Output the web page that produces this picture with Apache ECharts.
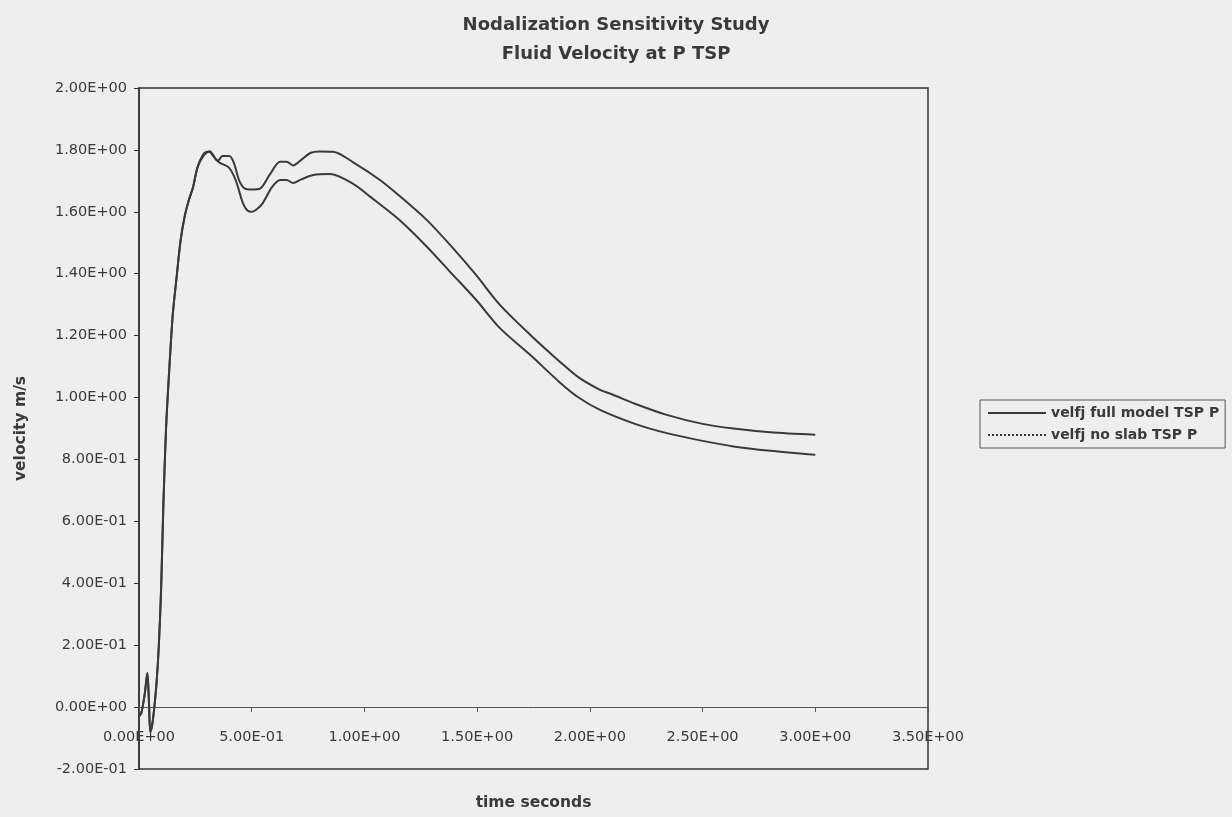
<!DOCTYPE html>
<html>
<head>
<meta charset="utf-8">
<script src="https://cdn.jsdelivr.net/npm/echarts@6/dist/echarts.min.js"></script>
<style>
html,body{margin:0;padding:0;background:#eeeeee;}
#chart{width:1232px;height:817px;}
</style>
</head>
<body>
<div id="chart"></div>
<script>
// ---- data ----
const seriesNames = ['velfj full model TSP P', 'velfj no slab TSP P'];

const timeFull = [0.000,0.010,0.025,0.037,0.044,0.050,0.058,0.068,0.078,0.088,0.098,0.108,0.120,0.135,0.150,0.167,0.185,0.204,0.222,0.240,0.255,0.270,0.290,0.310,0.330,0.350,0.370,0.400,0.420,0.445,0.470,0.500,0.537,0.580,0.626,0.655,0.683,0.720,0.760,0.800,0.861,0.950,1.069,1.158,1.276,1.380,1.495,1.600,1.735,1.868,1.950,2.045,2.100,2.200,2.341,2.500,2.637,2.800,3.000];
const veloFull = [-0.03,-0.02,0.04,0.11,0.02,-0.08,-0.06,0.00,0.08,0.20,0.38,0.65,0.90,1.10,1.27,1.39,1.51,1.59,1.64,1.68,1.73,1.765,1.79,1.795,1.78,1.765,1.78,1.78,1.76,1.70,1.675,1.672,1.675,1.72,1.762,1.762,1.750,1.768,1.790,1.795,1.794,1.760,1.703,1.650,1.574,1.493,1.396,1.300,1.203,1.115,1.065,1.025,1.010,0.980,0.944,0.915,0.900,0.888,0.880];

const timeNoSlab = [0.000,0.010,0.025,0.037,0.044,0.050,0.058,0.068,0.078,0.088,0.098,0.108,0.120,0.135,0.150,0.167,0.185,0.204,0.222,0.240,0.260,0.290,0.315,0.340,0.359,0.400,0.430,0.460,0.480,0.500,0.525,0.550,0.590,0.626,0.655,0.683,0.720,0.773,0.847,0.950,1.025,1.158,1.276,1.380,1.495,1.600,1.735,1.868,1.950,2.045,2.200,2.341,2.500,2.637,2.800,3.000];
const veloNoSlab = [-0.03,-0.02,0.04,0.11,0.02,-0.08,-0.06,0.00,0.08,0.20,0.38,0.65,0.90,1.10,1.27,1.39,1.51,1.59,1.64,1.68,1.745,1.785,1.795,1.770,1.758,1.742,1.700,1.630,1.605,1.600,1.610,1.629,1.680,1.703,1.703,1.693,1.705,1.719,1.722,1.690,1.649,1.572,1.488,1.406,1.316,1.225,1.138,1.048,1.000,0.960,0.915,0.885,0.860,0.842,0.828,0.815];

const xTickLabels = ['0.00E+00','5.00E-01','1.00E+00','1.50E+00','2.00E+00','2.50E+00','3.00E+00','3.50E+00'];
const yTickLabels = ['-2.00E-01','0.00E+00','2.00E-01','4.00E-01','6.00E-01','8.00E-01','1.00E+00','1.20E+00','1.40E+00','1.60E+00','1.80E+00','2.00E+00'];

// ---- chart ----
const ink = '#333333';
const chart = echarts.init(document.getElementById('chart'));
const pairs = (t, v) => t.map((x, i) => [x, v[i]]);

chart.setOption({
  backgroundColor: '#eeeeee',
  animation: false,
  title: {
    text: 'Nodalization Sensitivity Study\nFluid Velocity at P TSP',
    left: 'center',
    top: 6,
    textStyle: {fontFamily: 'DejaVu Sans', fontWeight: 'bold', fontSize: 18, lineHeight: 29, color: '#3a3a3a'}
  },
  legend: {
    orient: 'vertical',
    left: 980,
    top: 400,
    itemWidth: 58,
    itemHeight: 16,
    itemGap: 6,
    padding: [5, 6, 5, 7],
    borderColor: '#555',
    borderWidth: 1,
    borderRadius: 0,
    textStyle: {fontFamily: 'DejaVu Sans', fontWeight: 'bold', fontSize: 14, color: '#3a3a3a', lineHeight: 16},
    data: [
      {name: seriesNames[0], itemStyle: {opacity: 0}, lineStyle: {type: 'solid', width: 2}},
      {name: seriesNames[1], itemStyle: {opacity: 0}, lineStyle: {type: 'dotted', width: 2}}
    ]
  },
  grid: {left: 139, right: 304, top: 88, bottom: 48, show: true, borderColor: ink, borderWidth: 1.5, backgroundColor: 'transparent', containLabel: false, outerBoundsMode: 'none'},
  xAxis: {
    type: 'value',
    min: 0, max: 3.5, interval: 0.5,
    name: 'time seconds',
    nameLocation: 'middle',
    nameGap: 26,
    nameTextStyle: {fontFamily: 'DejaVu Sans', fontWeight: 'bold', fontSize: 15.5, color: '#3a3a3a'},
    axisLine: {show: true, onZero: true, lineStyle: {color: '#555', width: 1}},
    axisTick: {show: true, length: 5, lineStyle: {color: '#555'}},
    splitLine: {show: false},
    axisLabel: {
      margin: -39,
      fontFamily: 'DejaVu Sans', fontSize: 14.5, color: '#3a3a3a',
      formatter: v => xTickLabels[Math.round(v / 0.5)]
    }
  },
  yAxis: {
    type: 'value',
    min: -0.2, max: 2.0, interval: 0.2,
    name: 'velocity m/s',
    nameLocation: 'middle',
    nameGap: 110,
    nameTextStyle: {fontFamily: 'DejaVu Sans', fontWeight: 'bold', fontSize: 15.5, color: '#3a3a3a'},
    axisLine: {show: true, lineStyle: {color: ink, width: 1.5}},
    axisTick: {show: true, length: 5, lineStyle: {color: ink}},
    splitLine: {show: false},
    axisLabel: {
      margin: 12,
      fontFamily: 'DejaVu Sans', fontSize: 14.5, color: '#3a3a3a',
      formatter: v => yTickLabels[Math.round((v + 0.2) / 0.2)]
    }
  },
  series: [
    {
      name: seriesNames[0], type: 'line', symbol: 'none', smooth: 0.3,
      lineStyle: {color: '#3a3a3a', width: 2},
      itemStyle: {color: '#3a3a3a'},
      data: pairs(timeFull, veloFull)
    },
    {
      name: seriesNames[1], type: 'line', symbol: 'none', smooth: 0.3,
      lineStyle: {color: '#3a3a3a', width: 2},
      itemStyle: {color: '#3a3a3a'},
      data: pairs(timeNoSlab, veloNoSlab)
    }
  ]
});
</script>
</body>
</html>
